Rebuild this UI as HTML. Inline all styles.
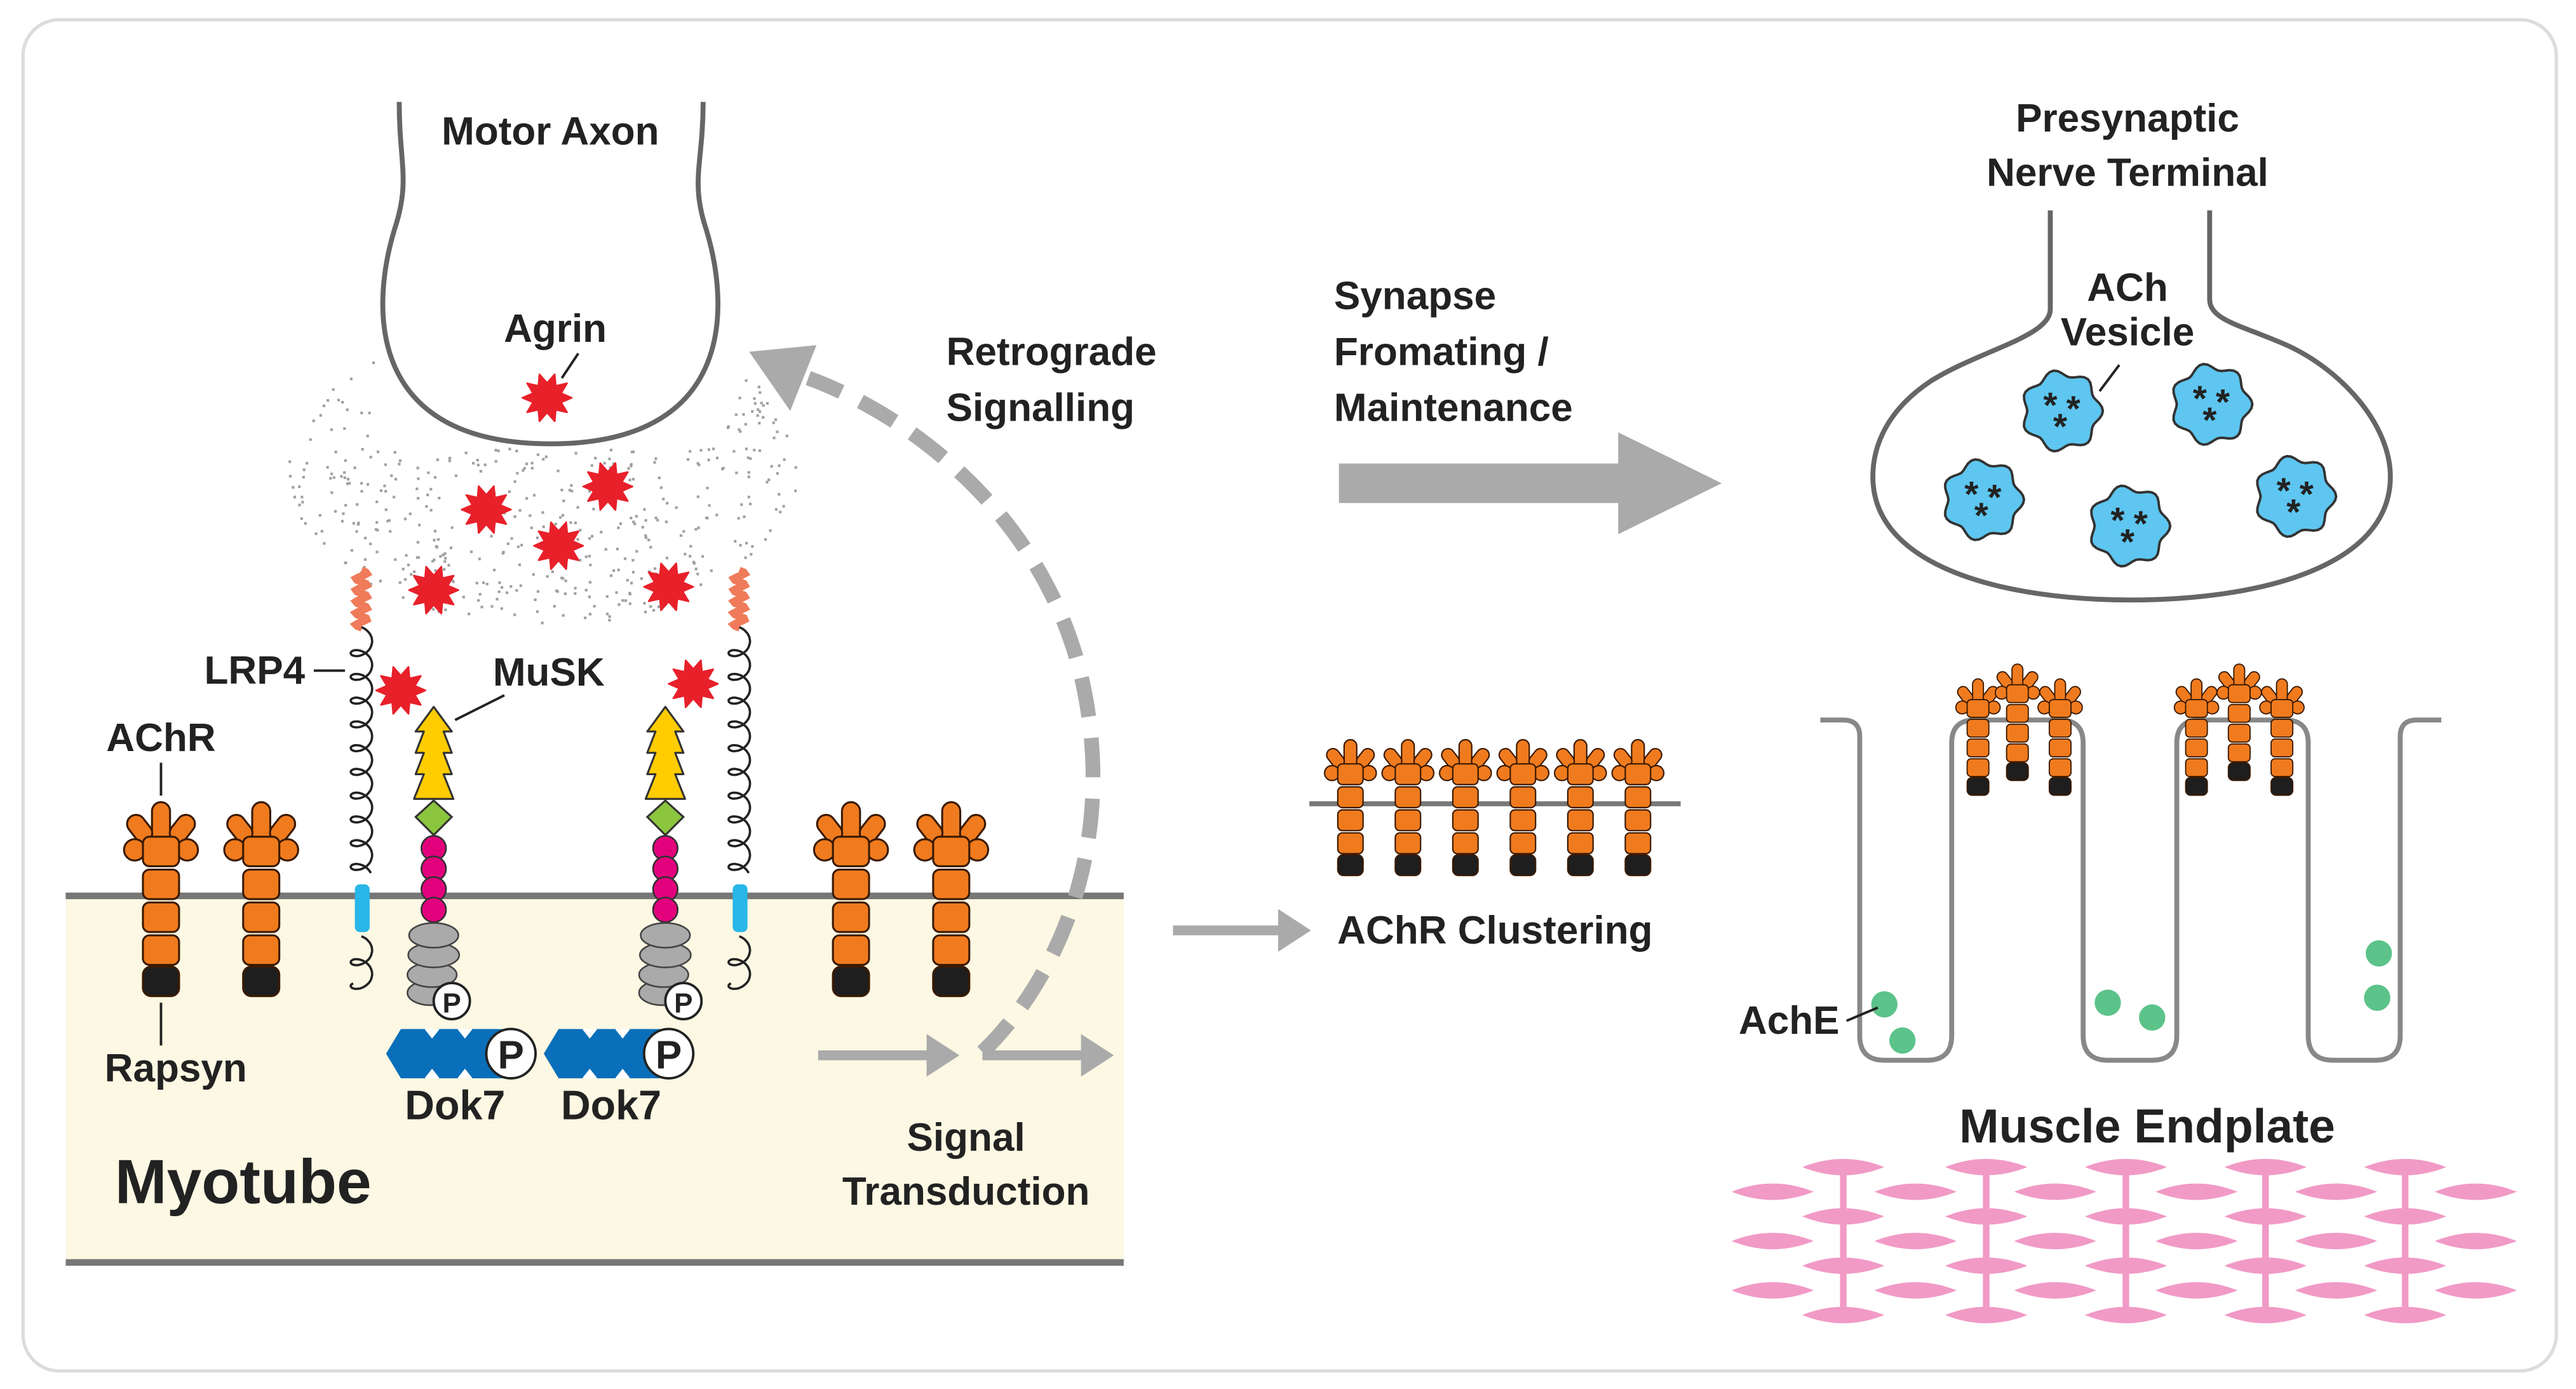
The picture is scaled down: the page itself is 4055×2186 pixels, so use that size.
<!DOCTYPE html>
<html><head><meta charset="utf-8">
<style>
html,body{margin:0;padding:0;background:#fff;}
svg{display:block;}
text{font-family:"Liberation Sans",sans-serif;font-weight:bold;fill:#222;}
</style></head>
<body>
<svg id="s" width="4055" height="2186" viewBox="0 0 1568 845" preserveAspectRatio="none" xmlns="http://www.w3.org/2000/svg">
<defs>
<g id="achr" stroke="#3a1a00" stroke-width="1.2" fill="#f07b1e">
  <rect x="-5.5" y="0" width="11" height="26" rx="5.5"/>
  <rect x="-5.5" y="-9" width="11" height="18" rx="5.5" transform="translate(-13,16) rotate(-38)"/>
  <rect x="-5.5" y="-9" width="11" height="18" rx="5.5" transform="translate(13,16) rotate(38)"/>
  <circle cx="-16" cy="29" r="6.5"/>
  <circle cx="16" cy="29" r="6.5"/>
  <rect x="-11" y="21" width="22" height="18" rx="4"/>
  <rect x="-11" y="41" width="22" height="18" rx="4"/>
  <rect x="-11" y="61" width="22" height="18" rx="4"/>
  <rect x="-11" y="81" width="22" height="18" rx="4"/>
  <rect x="-11" y="100" width="22" height="18" rx="5" fill="#1e1e1e"/>
</g>
<path id="star" fill="#e8202a" stroke="#e8202a" stroke-width="1" stroke-linejoin="round" d="M15,0 L8.56,2.78 L12.14,8.82 L5.29,7.28 L4.64,14.27 L0,9 L-4.64,14.27 L-5.29,7.28 L-12.14,8.82 L-8.56,2.78 L-15,0 L-8.56,-2.78 L-12.14,-8.82 L-5.29,-7.28 L-4.64,-14.27 L0,-9 L4.64,-14.27 L5.29,-7.28 L12.14,-8.82 L8.56,-2.78 Z"/>
<g id="musk">
  <path d="M0,430 L11,445 L6,445 L11,458 L6,458 L11,471 L6,471 L12,486 L-12,486 L-6,471 L-11,471 L-6,458 L-11,458 L-6,445 L-11,445 Z" fill="#ffcc00" stroke="#333" stroke-width="1.2" stroke-linejoin="round"/>
  <path d="M0,487 L11,497 L0,508 L-11,497 Z" fill="#8cc63f" stroke="#333" stroke-width="1.2"/>
  <g fill="#e3007d" stroke="#333" stroke-width="1"><circle cx="0" cy="516" r="7.5"/><circle cx="0" cy="528.5" r="7.5"/><circle cx="0" cy="541" r="7.5"/><circle cx="0" cy="553.5" r="7.5"/></g>
  <g fill="#aaa" stroke="#444" stroke-width="1"><ellipse cx="-2" cy="604" rx="14" ry="7.5"/><ellipse cx="-1" cy="593" rx="15" ry="7.5"/><ellipse cx="0" cy="581" rx="15.5" ry="7.5"/><ellipse cx="0" cy="569" rx="15" ry="7.5"/></g>
  <circle cx="11" cy="609" r="11" fill="#fff" stroke="#222" stroke-width="1.5"/>
  <text x="11" y="616" font-size="17" text-anchor="middle">P</text>
</g>
<g id="dok">
  <path d="M0,641 L9,626 L76,626 L76,656 L9,656 Z" fill="#0a6fba"/>
  <path d="M24,626 L28,631 L32,626 M44,626 L48,631 L52,626 M24,656 L28,651 L32,656 M44,656 L48,651 L52,656" fill="#fff" stroke="#fff" stroke-width="1"/>
  <circle cx="76" cy="641" r="15" fill="#fff" stroke="#222" stroke-width="1.5"/>
  <text x="76" y="650" font-size="24" text-anchor="middle">P</text>
</g>
</defs>

<rect x="14" y="12" width="1542" height="822" rx="22" fill="#fff" stroke="#dcdcdc" stroke-width="2"/>

<rect x="40" y="545" width="644" height="223" fill="#fcf8e3"/>
<line x1="40" y1="545" x2="684" y2="545" stroke="#777" stroke-width="4"/>
<line x1="40" y1="768" x2="684" y2="768" stroke="#777" stroke-width="4"/>

<g id="dots" fill="#a0a0a0"></g>

<path d="M243,62 C243,100 250,110 240,140 C225,190 225,270 335,270 C445,270 445,190 430,140 C420,110 428,100 428,62" fill="#fff" stroke="#666" stroke-width="3"/>
<text x="335" y="88" font-size="24" text-anchor="middle">Motor Axon</text>
<text x="338" y="208" font-size="24" text-anchor="middle">Agrin</text>
<line x1="352" y1="215" x2="342" y2="230" stroke="#222" stroke-width="1.5"/>

<use href="#star" x="333" y="242"/>
<use href="#star" x="296" y="310"/>
<use href="#star" x="370" y="296"/>
<use href="#star" x="340" y="332"/>
<use href="#star" x="264" y="359"/>
<use href="#star" x="407" y="357"/>
<use href="#star" x="244" y="420"/>
<use href="#star" x="422" y="416"/>

<g id="lrp" fill="none" stroke="#222" stroke-width="1.4"></g>
<rect x="216" y="538" width="9" height="29" rx="3" fill="#29b6e8"/>
<rect x="446" y="538" width="9" height="29" rx="3" fill="#29b6e8"/>

<use href="#musk" x="264" y="0"/>
<use href="#musk" x="405" y="0"/>
<use href="#dok" x="235" y="0"/>
<use href="#dok" x="331" y="0"/>

<use href="#achr" x="98" y="488"/>
<use href="#achr" x="159" y="488"/>
<use href="#achr" x="518" y="488"/>
<use href="#achr" x="579" y="488"/>

<text x="98" y="457" font-size="24" text-anchor="middle">AChR</text>
<line x1="98" y1="464" x2="98" y2="484" stroke="#222" stroke-width="1.5"/>
<line x1="98" y1="610" x2="98" y2="636" stroke="#222" stroke-width="1.5"/>
<text x="107" y="658" font-size="24" text-anchor="middle">Rapsyn</text>
<text x="155" y="416" font-size="24" text-anchor="middle">LRP4</text>
<line x1="191" y1="408" x2="210" y2="408" stroke="#222" stroke-width="1.5"/>
<text x="334" y="417" font-size="24" text-anchor="middle">MuSK</text>
<line x1="307" y1="423" x2="277" y2="438" stroke="#222" stroke-width="1.5"/>
<text x="277" y="681" font-size="25" text-anchor="middle">Dok7</text>
<text x="372" y="681" font-size="25" text-anchor="middle">Dok7</text>
<text x="148" y="732" font-size="38" text-anchor="middle">Myotube</text>
<text x="588" y="700" font-size="24" text-anchor="middle">Signal</text>
<text x="588" y="733" font-size="24" text-anchor="middle">Transduction</text>

<path d="M598,640 C640,600 680,520 660,420 C640,320 560,255 492,230" fill="none" stroke="#aaa" stroke-width="9" stroke-dasharray="24 13"/>
<polygon points="456,214 497,210 481,250" fill="#aaa"/>
<text x="576" y="222" font-size="24">Retrograde</text>
<text x="576" y="256" font-size="24">Signalling</text>

<g fill="#aaa" stroke="none">
<rect x="498" y="639" width="68" height="6"/><polygon points="564,629 584,642 564,655"/>
<rect x="598" y="639" width="62" height="6"/><polygon points="658,629 678,642 658,655"/>
<rect x="714" y="563" width="66" height="6"/><polygon points="778,553 798,566 778,579"/>
<polygon points="815,282 985,282 985,263 1048,294 985,325 985,306 815,306"/>
</g>

<text x="812" y="188" font-size="24">Synapse</text>
<text x="812" y="222" font-size="24">Fromating /</text>
<text x="812" y="256" font-size="24">Maintenance</text>

<text x="1295" y="80" font-size="24" text-anchor="middle">Presynaptic</text>
<text x="1295" y="113" font-size="24" text-anchor="middle">Nerve Terminal</text>
<path d="M1248,128 L1248,188 C1248,205 1205,213 1175,232 C1148,250 1140,272 1140,290 C1140,345 1220,365 1297,365 C1375,365 1455,345 1455,290 C1455,258 1425,225 1392,210 C1365,198 1345,195 1345,182 L1345,128" fill="#fff" stroke="#666" stroke-width="3"/>
<text x="1295" y="183" font-size="24" text-anchor="middle">ACh</text>
<text x="1295" y="210" font-size="24" text-anchor="middle">Vesicle</text>
<line x1="1290" y1="222" x2="1278" y2="238" stroke="#222" stroke-width="1.5"/>
<g id="ves"></g>

<line x1="797" y1="489" x2="1023" y2="489" stroke="#777" stroke-width="3"/>
<g transform="translate(822,450) scale(0.7)"><use href="#achr"/></g>
<g transform="translate(857,450) scale(0.7)"><use href="#achr"/></g>
<g transform="translate(892,450) scale(0.7)"><use href="#achr"/></g>
<g transform="translate(927,450) scale(0.7)"><use href="#achr"/></g>
<g transform="translate(962,450) scale(0.7)"><use href="#achr"/></g>
<g transform="translate(997,450) scale(0.7)"><use href="#achr"/></g>
<text x="910" y="574" font-size="24" text-anchor="middle">AChR Clustering</text>

<path d="M1108,438 L1122,438 Q1132,438 1132,448 L1132,630 Q1132,645 1147,645 L1173,645 Q1188,645 1188,630 L1188,452 Q1188,438 1202,438 L1254,438 Q1268,438 1268,452 L1268,630 Q1268,645 1283,645 L1310,645 Q1325,645 1325,630 L1325,452 Q1325,438 1339,438 L1391,438 Q1405,438 1405,452 L1405,630 Q1405,645 1420,645 L1446,645 Q1461,645 1461,630 L1461,448 Q1461,438 1471,438 L1486,438" fill="none" stroke="#888" stroke-width="3"/>
<g transform="translate(1204,413) scale(0.6)"><use href="#achr"/></g>
<g transform="translate(1254,413) scale(0.6)"><use href="#achr"/></g>
<g transform="translate(1228,404) scale(0.6)"><use href="#achr"/></g>
<g transform="translate(1337,413) scale(0.6)"><use href="#achr"/></g>
<g transform="translate(1389,413) scale(0.6)"><use href="#achr"/></g>
<g transform="translate(1363,404) scale(0.6)"><use href="#achr"/></g>
<g fill="#5cc38a">
<ellipse cx="1147" cy="611" rx="8" ry="8"/><ellipse cx="1158" cy="633" rx="8" ry="8"/>
<ellipse cx="1283" cy="610" rx="8" ry="8"/><ellipse cx="1310" cy="619" rx="8" ry="8"/>
<ellipse cx="1448" cy="580" rx="8" ry="8"/><ellipse cx="1447" cy="607" rx="8" ry="8"/>
</g>
<text x="1089" y="629" font-size="24" text-anchor="middle">AchE</text>
<line x1="1124" y1="621" x2="1143" y2="613" stroke="#222" stroke-width="1.5"/>
<text x="1307" y="695" font-size="29" text-anchor="middle">Muscle Endplate</text>
<g id="muscle" fill="#f19ac6"></g>
</svg>
<script>
(function(){
var NS="http://www.w3.org/2000/svg";
function el(t,a,p){var e=document.createElementNS(NS,t);for(var k in a)e.setAttribute(k,a[k]);p.appendChild(e);return e;}
var seed=12345;function rnd(){seed=(seed*1103515245+12345)%2147483648;return seed/2147483648;}
var g=document.getElementById('dots');
for(var i=0;i<900;i++){var x=175+rnd()*310,y=190+rnd()*190;
 var dx=(x-330)/155,dy=(y-285)/95; if(dx*dx+dy*dy>1)continue;
 if(y<272&&x>228&&x<442)continue;
 el('rect',{x:x.toFixed(1),y:y.toFixed(1),width:1.6,height:1.6},g);}
var L=document.getElementById('lrp');
[220,450].forEach(function(cx){
 var od='';for(var y=347;y<=382;y+=1){var x=cx+3.5*Math.sin((y-347)*0.9);od+=(y==347?'M':'L')+x.toFixed(1)+','+y;}
 el('path',{d:od,stroke:'#f07b5a','stroke-width':4.5,fill:'none'},L);
 function loops(y0,y1){var s='',b=2.3,r=6.5;var n=(y1-y0-2*r)/b;for(var t=0;t<=n;t+=0.15){var x=cx+r*Math.sin(t),y=y0+r+b*t-r*0.75*Math.cos(t);s+=(t==0?'M':'L')+x.toFixed(1)+','+y.toFixed(1);}return s;}
 el('path',{d:loops(380,540)},L);
 el('path',{d:loops(568,608)},L);
});
var V=document.getElementById('ves');
[[1255,250],[1346,246],[1207,304],[1296,320],[1397,302]].forEach(function(p){
 var s='';for(var k=0;k<=64;k++){var a=k/64*Math.PI*2,r=23+2*Math.cos(7*a);s+=(k?'L':'M')+(p[0]+r*Math.cos(a)).toFixed(1)+','+(p[1]+r*Math.sin(a)).toFixed(1);}
 el('path',{d:s+'Z',fill:'#5ec6f0',stroke:'#333','stroke-width':1.5},V);
 [[-7,-5],[7,-3],[-1,8]].forEach(function(o){var t=el('text',{x:p[0]+o[0],y:p[1]+o[1]+9,'font-size':22,'text-anchor':'middle'},V);t.textContent='*';});
});
var M=document.getElementById('muscle');
function lens(cx,cy){el('path',{d:'M'+(cx-25)+','+cy+' Q'+cx+','+(cy-10)+' '+(cx+25)+','+cy+' Q'+cx+','+(cy+10)+' '+(cx-25)+','+cy+'Z'},M);}
var odd=[1122,1209,1294,1379,1464],even=[1079,1166,1251,1337,1422,1507];
odd.forEach(function(x){el('rect',{x:x-2,y:710,width:4,height:90},M);});
[710,740,770,800].forEach(function(y){odd.forEach(function(x){lens(x,y);});});
[725,755,785].forEach(function(y){even.forEach(function(x){lens(x,y);});});
})();
</script>
</body></html>
